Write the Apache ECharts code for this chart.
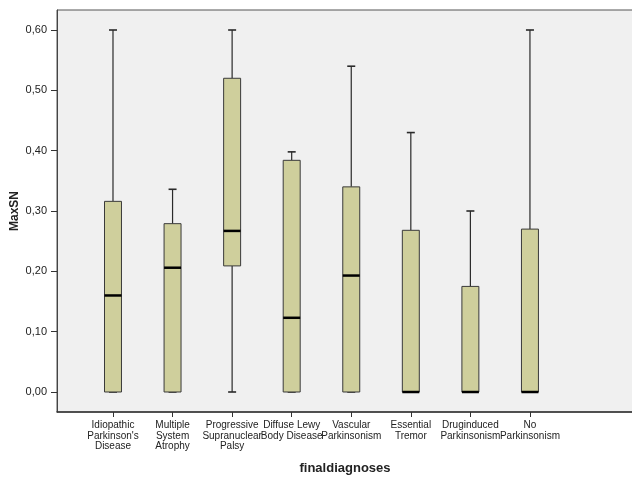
<!DOCTYPE html>
<html>
<head>
<meta charset="utf-8">
<script src="https://cdn.jsdelivr.net/npm/echarts@6/dist/echarts.min.js"></script>
<style>html,body{margin:0;padding:0;background:#fff;overflow:hidden;}#c{width:632px;height:477px;}</style>
</head>
<body>
<div id="c"></div>
<script>
const categories = ["Idiopathic\nParkinson's\nDisease", "Multiple\nSystem\nAtrophy", "Progressive\nSupranuclear\nPalsy", "Diffuse Lewy\nBody Disease", "Vascular\nParkinsonism", "Essential\nTremor", "Druginduced\nParkinsonism", "No\nParkinsonism"];
const minVals = [0, 0, 0, 0, 0, 0, 0, 0];
const q1Vals = [0, 0, 0.209, 0, 0, 0, 0, 0];
const medianVals = [0.16, 0.206, 0.267, 0.123, 0.193, 0, 0, 0];
const q3Vals = [0.316, 0.279, 0.52, 0.384, 0.34, 0.268, 0.175, 0.27];
const maxVals = [0.60, 0.336, 0.60, 0.398, 0.54, 0.43, 0.30, 0.60];
const yTicks = [0, 0.1, 0.2, 0.3, 0.4, 0.5, 0.6];
const xTicks = [0, 1, 2, 3, 4, 5, 6, 7];

const X_MIN = -0.94, X_MAX = 8.73;
const data = categories.map((c, i) => [i, minVals[i], q1Vals[i], medianVals[i], q3Vals[i], maxVals[i]]);

const chart = echarts.init(document.getElementById('c'));
const font = '"Liberation Sans", Arial, sans-serif';
chart.setOption({
  animation: false,
  backgroundColor: '#ffffff',
  grid: {left: 57, top: 10, right: -1, bottom: 65, outerBoundsMode: 'none', containLabel: false,
         show: true, backgroundColor: '#f0f0f0', borderColor: '#555', borderWidth: 1},
  xAxis: {
    type: 'value', min: X_MIN, max: X_MAX,
    axisLine: {show: true, onZero: false, lineStyle: {color: '#333', width: 1.5}},
    splitLine: {show: false},
    axisTick: {show: true, length: 5, customValues: xTicks.concat([X_MAX]), lineStyle: {color: '#333'}},
    axisLabel: {customValues: xTicks.concat([X_MAX]), margin: 8, fontFamily: font, fontSize: 10, lineHeight: 10.5, color: '#222', align: 'center',
      formatter: v => (Math.abs(v - Math.round(v)) < 1e-6 ? (categories[Math.round(v)] || '') : '')},
    name: 'finaldiagnoses', nameLocation: 'middle', nameGap: 50, nameMoveOverlap: false,
    nameTextStyle: {fontFamily: font, fontSize: 13, fontWeight: 'bold', color: '#222'}
  },
  yAxis: {
    type: 'value', min: -0.03315, max: 0.63315,
    axisLine: {show: true, onZero: false, lineStyle: {color: '#444', width: 1}},
    axisTick: {show: true, length: 6, customValues: yTicks, lineStyle: {color: '#333'}},
    splitLine: {show: false},
    axisLabel: {customValues: yTicks, margin: 10, fontFamily: font, fontSize: 11, color: '#222',
      formatter: v => v.toFixed(2).replace('.', ',')},
    name: 'MaxSN', nameLocation: 'middle', nameGap: 36, nameMoveOverlap: false,
    nameTextStyle: {fontFamily: font, fontSize: 12, fontWeight: 'bold', color: '#222'}
  },
  series: [{
    type: 'custom',
    data: data,
    encode: {x: 0, y: [1, 2, 3, 4, 5]},
    renderItem: function (params, api) {
      const x = api.value(0);
      const pMin = api.coord([x, api.value(1)]);
      const pQ1 = api.coord([x, api.value(2)]);
      const pMed = api.coord([x, api.value(3)]);
      const pQ3 = api.coord([x, api.value(4)]);
      const pMax = api.coord([x, api.value(5)]);
      const band = api.size([1, 0])[0];
      const bw = band * 0.285;
      const cap = 4;
      const cx = pQ1[0];
      const wl = {stroke: '#2a2a2a', lineWidth: 1.2};
      return {
        type: 'group',
        children: [
          {type: 'line', shape: {x1: cx, y1: pMax[1], x2: cx, y2: pQ3[1]}, style: wl},
          {type: 'line', shape: {x1: cx, y1: pQ1[1], x2: cx, y2: pMin[1]}, style: wl},
          {type: 'line', shape: {x1: cx - cap, y1: pMax[1], x2: cx + cap, y2: pMax[1]}, style: {stroke: '#2a2a2a', lineWidth: 1.6}},
          {type: 'line', shape: {x1: cx - cap, y1: pMin[1], x2: cx + cap, y2: pMin[1]}, style: {stroke: '#2a2a2a', lineWidth: 1.6}},
          {type: 'rect', shape: {x: cx - bw / 2, y: pQ3[1], width: bw, height: pQ1[1] - pQ3[1]},
           style: {fill: '#cfcf9c', stroke: '#3a3a3a', lineWidth: 1}},
          {type: 'line', shape: {x1: cx - bw / 2, y1: pMed[1], x2: cx + bw / 2, y2: pMed[1]}, style: {stroke: '#000', lineWidth: 2.5}}
        ]
      };
    }
  }]
});
</script>
</body>
</html>
